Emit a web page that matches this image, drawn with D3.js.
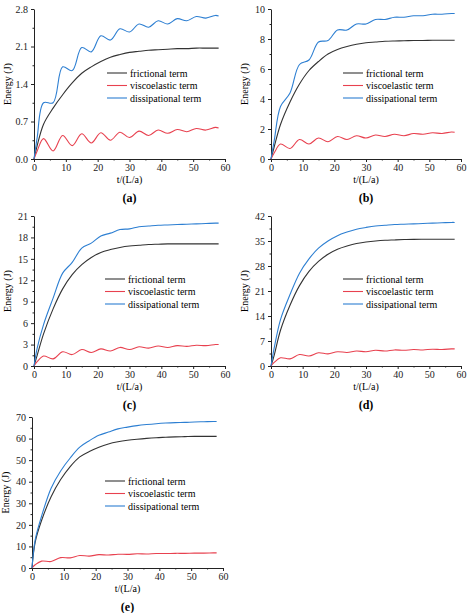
<!DOCTYPE html><html><head><meta charset="utf-8"><script src="https://cdn.jsdelivr.net/npm/d3@7"></script>
<style>body{margin:0;background:#fff}svg text{font-family:"Liberation Serif","DejaVu Serif",serif !important}</style></head><body>
<svg id="c" width="474" height="613"></svg>
<script>
const T=[0,1,3,6,9,12,15,18,21,24,27,30,33,36,39,42,45,48,51,54,57,58];
const fricA=[0,0.25,0.65,0.95,1.2,1.42,1.6,1.72,1.82,1.9,1.95,1.99,2.01,2.03,2.04,2.05,2.06,2.06,2.07,2.07,2.07,2.07];
const viscA=[0,0.15,0.38,0.15,0.44,0.25,0.47,0.3,0.49,0.35,0.5,0.4,0.52,0.44,0.54,0.48,0.55,0.51,0.57,0.54,0.59,0.58];
const dissA=[0,0.4,1.05,1.05,1.72,1.65,2.08,2.0,2.3,2.22,2.43,2.37,2.52,2.46,2.58,2.52,2.62,2.58,2.66,2.63,2.68,2.67];
const fricB=[0,0.8,2.3,3.8,5.0,5.9,6.5,7.0,7.3,7.5,7.65,7.75,7.8,7.85,7.87,7.88,7.9,7.9,7.92,7.92,7.92,7.92];
const viscB=[0,0.4,1.0,0.7,1.3,1.0,1.4,1.15,1.5,1.3,1.55,1.4,1.6,1.5,1.65,1.55,1.7,1.65,1.75,1.7,1.8,1.78];
const dissB=[0,1.2,3.5,4.4,6.3,6.6,7.8,7.9,8.6,8.6,9.0,9.0,9.3,9.3,9.45,9.45,9.55,9.55,9.65,9.65,9.7,9.7];
const fricC=[0,1.5,4.5,8,10.8,12.8,14.2,15.2,15.9,16.3,16.6,16.8,16.9,17,17.05,17.1,17.1,17.1,17.1,17.1,17.1,17.1];
const viscC=[0,0.6,1.4,1.0,2.0,1.6,2.3,1.9,2.4,2.1,2.6,2.3,2.7,2.5,2.8,2.6,2.85,2.75,2.9,2.85,3.0,3.0];
const dissC=[0,2.5,5.8,9.5,13,14.5,16.5,17.2,18.2,18.6,19.1,19.2,19.5,19.6,19.7,19.75,19.8,19.85,19.9,19.95,20,20];
const fricD=[0,3,10,17,22.5,26.5,29.3,31.3,32.7,33.6,34.3,34.7,35,35.2,35.3,35.4,35.45,35.5,35.5,35.5,35.5,35.5];
const viscD=[0,1,2.3,2.0,3.2,2.8,3.7,3.4,4.0,3.8,4.2,4.0,4.4,4.2,4.5,4.4,4.6,4.5,4.7,4.6,4.8,4.8];
const dissD=[0,5,13,20,26,30,33,35,36.5,37.5,38.3,38.8,39.2,39.4,39.6,39.7,39.8,39.9,40,40.1,40.2,40.2];
const fricE=[0,12,22,33,41,47,51.5,54,56,57.5,58.5,59.2,59.7,60.1,60.4,60.6,60.8,60.9,61,61,61,61];
const viscE=[0,1.5,3.2,3.0,4.8,4.7,5.8,5.5,6.2,6.0,6.4,6.3,6.6,6.5,6.7,6.7,6.8,6.8,6.9,6.9,7,7];
const dissE=[0,13,24,37,45,51,56,59,61.5,63,64.5,65.3,66,66.5,66.9,67.2,67.4,67.5,67.7,67.8,67.9,67.9];
const xTicks=[0,10,20,30,40,50,60];
const yTicksA=[0,0.7,1.4,2.1,2.8],yTicksB=[0,2,4,6,8,10],yTicksC=[0,3,6,9,12,15,18,21],yTicksD=[0,7,14,21,28,35,42],yTicksE=[0,10,20,30,40,50,60,70];
const names=["frictional term","viscoelastic term","dissipational term"];
const colors=["#333333","#e8414f","#2d7fd2"];
const panels=[
 {lab:"(a)",x0:34,x1:225,yb:159,yt:9,yt2:yTicksA,s:[fricA,viscA,dissA],lx:107,ly:73,fmt:d3.format(".1f")},
 {lab:"(b)",x0:271,x1:461,yb:159,yt:9,yt2:yTicksB,s:[fricB,viscB,dissB],lx:343,ly:73,fmt:d3.format("d")},
 {lab:"(c)",x0:34,x1:225,yb:366,yt:216,yt2:yTicksC,s:[fricC,viscC,dissC],lx:105,ly:279,fmt:d3.format("d")},
 {lab:"(d)",x0:271,x1:461,yb:366,yt:216,yt2:yTicksD,s:[fricD,viscD,dissD],lx:343,ly:279,fmt:d3.format("d")},
 {lab:"(e)",x0:32,x1:223,yb:568,yt:417,yt2:yTicksE,s:[fricE,viscE,dissE],lx:105,ly:481,fmt:d3.format("d")}];
const svg=d3.select("#c");
panels.forEach(p=>{
 const yt=p.yt2,ymax=yt[yt.length-1];
 const x=d3.scaleLinear().domain([0,60]).range([p.x0,p.x1]);
 const y=d3.scaleLinear().domain([0,ymax]).range([p.yb,p.yt]);
 const g=svg.append("g");
 const minorX=d3.range(5,60,10);
 const stepY=yt[1]-yt[0];const minorY=yt.slice(0,-1).map(v=>v+stepY/2);
 g.append("g").attr("transform",`translate(0,${p.yb})`).call(d3.axisBottom(x).tickValues(xTicks).tickSize(3).tickPadding(2).tickSizeOuter(0));
 g.append("g").attr("transform",`translate(0,${p.yb})`).call(d3.axisBottom(x).tickValues(minorX).tickSize(1.5).tickFormat("")).select(".domain").remove();
 g.append("g").attr("transform",`translate(${p.x0},0)`).call(d3.axisLeft(y).tickValues(yt).tickFormat(p.fmt).tickSize(3).tickSizeOuter(0));
 g.append("g").attr("transform",`translate(${p.x0},0)`).call(d3.axisLeft(y).tickValues(minorY).tickSize(1.5).tickFormat("")).select(".domain").remove();
 g.selectAll(".tick text").attr("font-size",10).attr("fill","#222");
 g.selectAll(".domain,.tick line").attr("stroke","#222");
 const line=d3.line().x((d,i)=>x(T[i])).y(d=>y(d)).curve(d3.curveCatmullRom);
 p.s.forEach((s,k)=>g.append("path").attr("d",line(s)).attr("fill","none").attr("stroke",colors[k]).attr("stroke-width",1.1));
 g.append("text").attr("x",(p.x0+p.x1)/2).attr("y",p.yb+24).attr("text-anchor","middle").attr("font-size",10).text("t/(L/a)");
 g.append("text").attr("transform",`translate(${p.x0-23},${(p.yb+p.yt)/2}) rotate(-90)`).attr("text-anchor","middle").attr("font-size",10).text("Energy (J)");
 g.append("text").attr("x",(p.x0+p.x1)/2).attr("y",p.yb+43).attr("text-anchor","middle").attr("font-size",12).attr("font-weight","bold").text(p.lab);
 names.forEach((n,k)=>{const yy=p.ly+k*12.5;
  g.append("line").attr("x1",p.lx).attr("x2",p.lx+20).attr("y1",yy).attr("y2",yy).attr("stroke",colors[k]).attr("stroke-width",1.1);
  g.append("text").attr("x",p.lx+23).attr("y",yy+3.5).attr("font-size",10).text(n);});
});
</script></body></html>
